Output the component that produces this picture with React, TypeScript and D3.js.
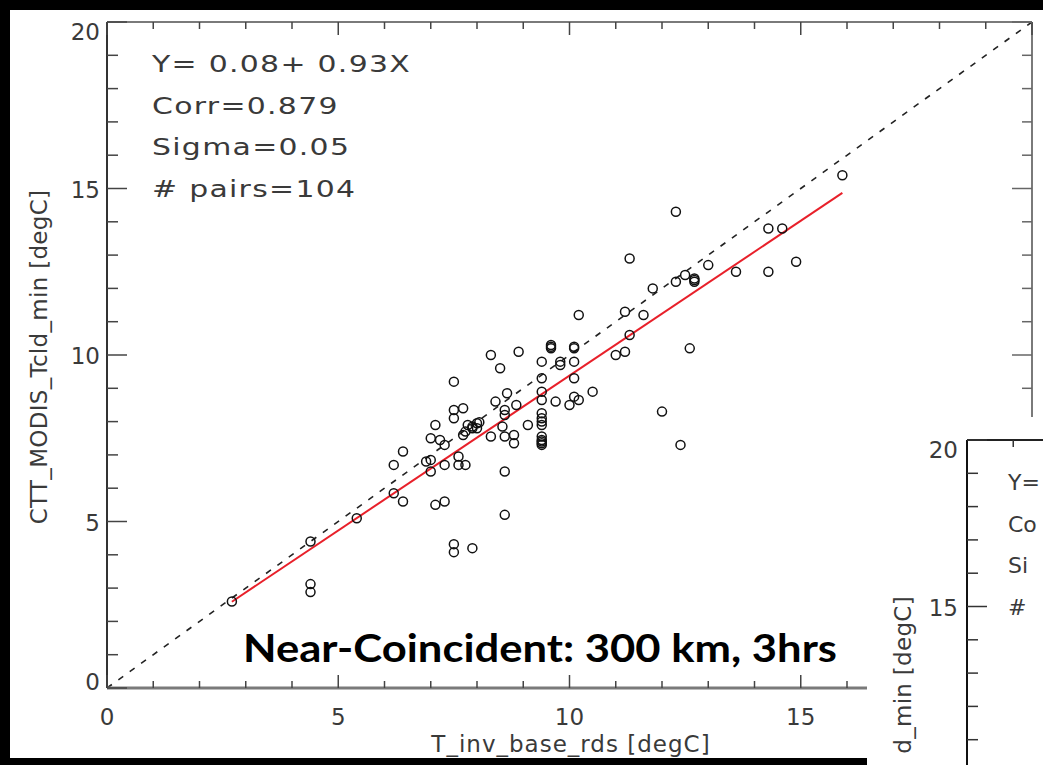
import React from "react";
import * as d3 from "d3";

const xVals = [2.7, 4.4, 4.4, 4.4, 5.4, 6.2, 6.2, 6.4, 6.4, 7.1, 7.3, 6.9, 7.0, 7.0, 7.3, 7.6, 7.6, 7.75, 7.0, 7.2, 7.3, 7.1, 7.5, 7.5, 7.5, 7.7, 7.8, 7.9, 8.0, 8.05, 7.75, 7.7, 8.3, 8.5, 8.9, 8.4, 8.6, 8.65, 8.85, 8.6, 8.3, 8.6, 8.8, 8.8, 8.55, 9.1, 8.6, 8.6, 7.5, 7.5, 7.9, 9.4, 9.4, 9.4, 9.4, 9.4, 9.4, 9.4, 9.4, 9.4, 9.4, 9.6, 9.6, 9.8, 9.8, 9.7, 10.0, 10.1, 10.2, 10.1, 10.1, 10.1, 10.5, 10.2, 11.0, 11.2, 11.3, 11.2, 11.6, 11.3, 11.8, 12.3, 12.5, 12.7, 12.7, 13.0, 12.3, 12.6, 12.0, 12.4, 13.6, 14.3, 14.6, 14.3, 14.9, 15.9, 10.1, 9.4, 7.9, 8.0, 9.4, 9.4, 12.7, 9.6];
const yVals = [2.6, 3.12, 2.88, 4.4, 5.1, 5.85, 6.7, 7.1, 5.6, 5.5, 5.6, 6.8, 6.85, 6.5, 6.7, 6.95, 6.7, 6.7, 7.5, 7.45, 7.3, 7.9, 9.2, 8.35, 8.1, 8.4, 7.9, 7.8, 7.95, 7.98, 7.7, 7.6, 10.0, 9.6, 10.1, 8.6, 8.35, 8.85, 8.5, 8.2, 7.55, 7.55, 7.6, 7.35, 7.85, 7.9, 6.5, 5.2, 4.32, 4.08, 4.2, 9.8, 9.3, 8.9, 8.65, 8.25, 8.1, 7.9, 7.55, 7.4, 7.3, 10.3, 10.2, 9.8, 9.7, 8.6, 8.5, 8.75, 8.65, 9.8, 9.3, 10.25, 8.9, 11.2, 10.0, 10.1, 10.6, 11.3, 11.2, 12.9, 12.0, 12.2, 12.4, 12.3, 12.2, 12.7, 14.3, 10.2, 8.3, 7.3, 12.5, 13.8, 13.8, 12.5, 12.8, 15.4, 10.2, 7.35, 7.85, 7.8, 7.45, 8.0, 12.25, 10.25];

const statLines = ["Y= 0.08+ 0.93X", "Corr=0.879", "Sigma=0.05", "# pairs=104"];
const insetStatLines = ["Y=", "Co", "Si", "#"];
const fitIntercept = 0.08;
const fitSlope = 0.93;
const xTickLabels = ["0", "5", "10", "15"];
const yTickLabels = ["0", "5", "10", "15", "20"];
const insetYTickLabels = ["15", "20"];
const xTitle = "T_inv_base_rds [degC]";
const yTitle = "CTT_MODIS_Tcld_min [degC]";
const insetYTitle = "d_min [degC]";
const annotation = "Near-Coincident: 300 km, 3hrs";

const W = 1043;
const H = 765;
const FONT = "'DejaVu Sans', sans-serif";
const TXT = "#3a3a3a";
const AX = "#7a7a7a";

export default function App() {
  const x = d3.scaleLinear().domain([0, 20]).range([107, 1032]);
  const y = d3.scaleLinear().domain([0, 20]).range([688, 22]);
  const iy = d3.scaleLinear().domain([0, 20]).range([1106, 440]);
  const ix0 = 967;

  const pts = xVals.map((v, i) => [v, yVals[i]] as [number, number]);
  const xmin = d3.min(xVals) as number;
  const xmax = d3.max(xVals) as number;
  const line = d3.line<[number, number]>().x((d) => x(d[0])).y((d) => y(d[1]));
  const fitPath = line([
    [xmin, fitIntercept + fitSlope * xmin],
    [xmax, fitIntercept + fitSlope * xmax],
  ]);
  const onePath = line([
    [0, 0],
    [20, 20],
  ]);
  const minor = d3.range(0, 21, 1);
  const yLabelPos = (v: number) => Math.min(Math.max(y(v), 31), 681) + 9;

  return (
    <svg width={W} height={H} style={{ position: "fixed", left: 0, top: 0 }} fontFamily={FONT}>
      <rect x={0} y={0} width={W} height={H} fill="#000" />
      <rect x={10} y={10} width={W - 10} height={748} fill="#fff" />
      <path d={onePath || ""} stroke="#222" strokeWidth={1.6} strokeDasharray="6,8" fill="none" />
      <line x1={107} y1={22} x2={107} y2={688} stroke="#333" strokeWidth={2} />
      <line x1={107} y1={688} x2={1032} y2={688} stroke={AX} strokeWidth={3} />
      <line x1={107} y1={22} x2={1032} y2={22} stroke={AX} strokeWidth={2} />
      <line x1={1032} y1={22} x2={1032} y2={688} stroke={AX} strokeWidth={2} />
      {minor.map((t) => {
        const major = t % 5 === 0;
        return (
          <g key={"t" + t}>
            <line x1={x(t)} y1={688} x2={x(t)} y2={688 - (major ? 13 : 7)} stroke="#444" strokeWidth={1.5} />
            <line x1={x(t)} y1={22} x2={x(t)} y2={22 + (major ? 13 : 7)} stroke="#444" strokeWidth={1.5} />
            <line x1={107} y1={y(t)} x2={107 + (major ? 20 : 11)} y2={y(t)} stroke="#444" strokeWidth={1.5} />
            <line x1={1032} y1={y(t)} x2={1032 - (major ? 20 : 10)} y2={y(t)} stroke="#666" strokeWidth={1.5} />
          </g>
        );
      })}
      {xTickLabels.map((s) => (
        <text key={"xl" + s} x={x(+s)} y={725} textAnchor="middle" fontSize={23} fill={TXT}>
          {s}
        </text>
      ))}
      {yTickLabels.map((s) => (
        <text key={"yl" + s} x={100} y={yLabelPos(+s)} textAnchor="end" fontSize={23} fill={TXT}>
          {s}
        </text>
      ))}
      <text x={571} y={752} textAnchor="middle" fontSize={23} letterSpacing={1} fill={TXT}>
        {xTitle}
      </text>
      <text transform={`translate(47,357) rotate(-90)`} textAnchor="middle" fontSize={23} letterSpacing={0.3} fill={TXT}>
        {yTitle}
      </text>
      {statLines.map((s, i) => (
        <text key={"s" + i} transform={`translate(152,${72 + i * 41.7}) scale(1.3,1)`} fontSize={23} letterSpacing={1} fill={TXT}>
          {s}
        </text>
      ))}
      <path d={fitPath || ""} stroke="#e8202a" strokeWidth={2} fill="none" />
      {pts.map((d, i) => (
        <circle key={"p" + i} cx={x(d[0])} cy={y(d[1])} r={4.5} fill="none" stroke="#111" strokeWidth={1.5} />
      ))}
      <text x={243} y={662} fontFamily="Lato, 'Open Sans', sans-serif" fontWeight="bold" fontSize={39} fill="#000" textLength={594} lengthAdjust="spacingAndGlyphs">
        {annotation}
      </text>
      {/* inset plot */}
      <rect x={867} y={417} width={W - 867} height={H - 417} fill="#fff" />
      <line x1={ix0} y1={440} x2={ix0} y2={H} stroke="#111" strokeWidth={2} />
      <line x1={ix0} y1={440} x2={W} y2={440} stroke="#222" strokeWidth={2} />
      <line x1={ix0 + 46.25} y1={440} x2={ix0 + 46.25} y2={447} stroke="#333" strokeWidth={1.5} />
      {d3.range(10, 21, 1).map((t) => {
        const major = t % 5 === 0;
        return <line key={"it" + t} x1={ix0} y1={iy(t)} x2={ix0 + (major ? 20 : 11)} y2={iy(t)} stroke="#333" strokeWidth={1.5} />;
      })}
      {insetYTickLabels.map((s) => (
        <text key={"iyl" + s} x={958} y={Math.max(iy(+s), 449) + 9} textAnchor="end" fontSize={23} fill={TXT}>
          {s}
        </text>
      ))}
      <text transform={`translate(911,596) rotate(-90)`} textAnchor="end" fontSize={23} letterSpacing={0.3} fill={TXT}>
        {insetYTitle}
      </text>
      {insetStatLines.map((s, i) => (
        <text key={"is" + i} x={1008} y={490 + i * 41.7} fontSize={22} fill={TXT}>
          {s}
        </text>
      ))}
    </svg>
  );
}
